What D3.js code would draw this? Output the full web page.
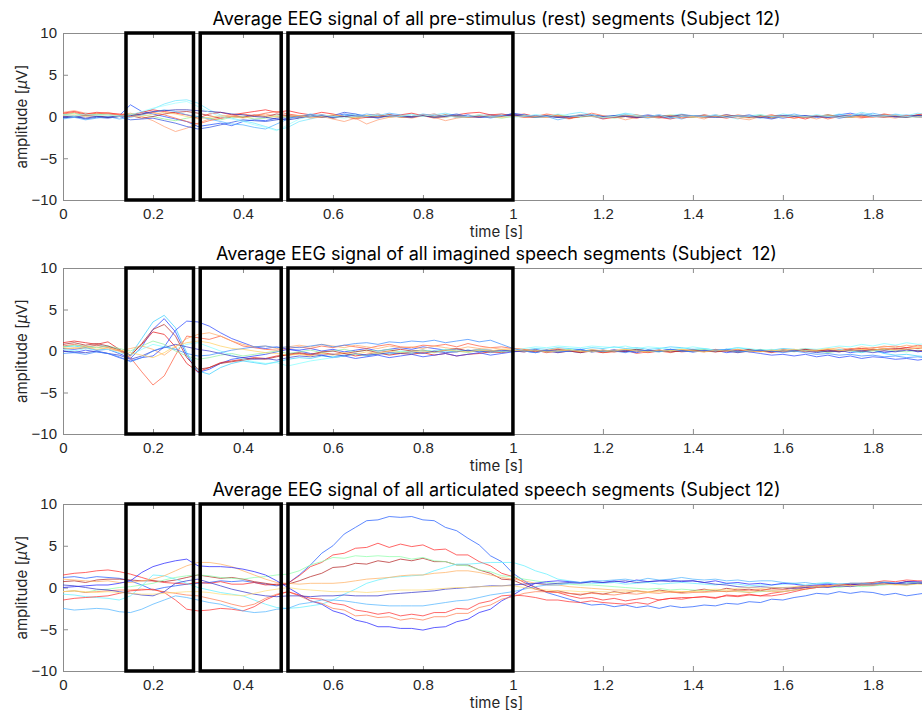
<!DOCTYPE html>
<html>
<head>
<meta charset="utf-8">
<script src="https://cdn.jsdelivr.net/npm/d3@7"></script>
<style>
  body { margin: 0; background: #fff; }
  svg { display: block; font-family: Inter, "Liberation Sans", Arial, sans-serif; }
  .tick text { fill: #262626; font-size: 15px; }
  .domain, .tick line { stroke: #8c8c8c; }
  .title { white-space: pre; }
</style>
</head>
<body>
<svg width="922" height="714"></svg>
<script>
var svg = d3.select("svg");

// sample spacing of the traces (s)
var dt = 0.025;

var xTicks = [0, 0.2, 0.4, 0.6, 0.8, 1, 1.2, 1.4, 1.6, 1.8];
var yTicks = [-10, -5, 0, 5, 10];

// marked analysis windows (s)
var boxStart = [0.14, 0.305, 0.5];
var boxEnd = [0.29, 0.485, 1.0];

var titles = [
  "Average EEG signal of all pre-stimulus (rest) segments (Subject 12)",
  "Average EEG signal of all imagined speech segments (Subject  12)",
  "Average EEG signal of all articulated speech segments (Subject 12)"
];

var restColors = ["#1e50ff", "#70e8ff", "#ff9a70", "#ff2020", "#90f090", "#b03030",
  "#3050e0", "#50b0ff", "#ff6040", "#ffd070", "#2828b0", "#a0ffff"];
var imaginedColors = ["#1e3cff", "#38d0ff", "#ff5a3c", "#e81818", "#2846ff", "#ffaa66",
  "#90f0a0", "#b02828", "#80ffff", "#3c3cc8", "#3c8cff", "#ffd060"];
var articulatedColors = ["#1e5aff", "#ff2a2a", "#b22222", "#8cffa8", "#60f0ff", "#ffb060",
  "#2020ff", "#ff7a50", "#ff3030", "#50b4ff", "#3434c8", "#ffdc78"];

// channel averages, uV, one value every dt
var restSignals = [
  [0.0,-0.1,0.1,0.0,-0.1,0.1, 1.4,0.6,0.3,0.0,-0.3,-0.6,-1.2, -1.0,-0.8,-1.1,-0.6,-0.4,-0.5,-0.2,0.0,
   0.1,-0.1,0.2,0.0,0.3,0.1,-0.1,0.0,0.2,0.1, 0.0,0.2,-0.1,0.1,0.0,0.2,-0.1,0.0,0.1,0.3,
   0.1,-0.1,0.0,0.2,-0.1,0.0,0.1,-0.2, 0.0,0.1,-0.1,0.0,0.2,-0.1,0.0,0.1, -0.1,0.0,0.2,0.0,-0.1,0.1,0.0,-0.2,
   0.0,0.1,-0.1,0.0,0.2,0.4,0.1,0.0, 0.2,-0.1,0.0,0.1,0.0],
  [0.3,0.1,0.4,0.2,0.3,0.1, 0.2,0.5,0.9,1.5,1.9,2.0,1.6, 0.8,0.2,-0.2,-0.5,-0.8,-1.2,-1.6,-1.3,
   -0.6,-0.3,0.0,-0.2,0.1,0.3,0.0,0.2,-0.1,0.1, 0.3,0.0,0.2,0.4,0.1,-0.1,0.2,0.0,0.3,0.1,
   0.0,0.2,0.1,-0.1,0.3,0.5,0.2,0.0, 0.1,0.4,0.2,0.0,-0.2,0.1,0.3,0.0, 0.2,-0.1,0.0,-0.3,0.1,0.2,0.0,0.3,
   0.1,-0.1,0.2,0.0,0.3,0.1,0.5,0.2, 0.0,0.3,0.1,0.4,0.2],
  [0.5,0.7,0.4,0.3,0.5,0.2, 0.4,0.0,-0.5,-1.2,-1.8,-1.4,-0.8, -0.3,0.0,0.2,-0.1,0.1,0.3,0.0,0.2,
   0.1,-0.2,0.0,-0.3,-0.6,-0.2,-0.9,-0.4,-0.1,0.0, -0.2,0.1,-0.1,-0.5,-0.2,0.0,-0.1,0.2,0.0,0.1,
   -0.1,0.0,0.2,-0.1,-0.3,0.0,0.1,-0.2, 0.0,-0.4,-0.1,0.0,-0.2,0.1,-0.1,0.0, -0.3,0.2,0.0,-0.2,-0.4,0.0,-0.1,0.1,
   -0.2,0.0,-0.3,0.1,-0.1,0.0,-0.2,0.1, 0.0,-0.2,0.1,-0.1,0.0],
  [0.4,0.6,0.3,0.5,0.4,0.3, 0.2,0.5,0.8,0.6,0.4,0.2,-0.2, 0.3,0.5,0.2,0.4,0.6,0.8,0.5,0.7,
   0.4,0.2,0.5,0.3,0.0,-0.2,0.1,0.3,0.0,0.2, 0.4,0.1,0.3,0.0,0.2,0.4,0.5,0.2,0.3,0.1,
   0.3,0.0,-0.1,0.2,-0.2,0.0,0.1,-0.3, -0.1,0.0,-0.2,0.1,-0.1,-0.3,0.0,-0.1, 0.2,0.0,-0.2,0.1,-0.1,0.0,0.2,-0.1,
   0.0,-0.3,0.1,-0.1,0.0,0.2,-0.1,0.0, 0.3,0.1,-0.1,0.2,0.4],
  [0.2,0.4,0.1,0.3,0.2,0.0, 0.3,0.2,0.0,-0.3,-0.5,-0.2,0.0, -0.2,-0.4,-0.1,0.0,-0.3,-0.2,0.1,-0.1,
   0.0,0.2,-0.1,0.1,0.0,-0.2,0.1,0.0,0.2,-0.1, 0.0,0.1,-0.1,0.2,0.0,-0.1,0.1,0.0,-0.2,0.0,
   0.1,-0.1,0.0,0.2,0.0,-0.1,0.1,0.0, -0.2,0.0,0.1,-0.1,0.0,0.2,0.0,-0.1, 0.1,0.0,-0.1,0.1,0.0,0.2,-0.1,0.0,
   0.1,-0.1,0.0,0.2,0.0,-0.1,0.1,0.0, 0.2,0.0,-0.1,0.1,0.0],
  [0.1,0.0,0.2,0.1,-0.1,0.0, 0.1,-0.2,0.0,0.3,0.5,0.6,0.4, 0.1,-0.2,0.0,-0.1,0.2,0.0,0.3,0.1,
   -0.1,0.0,0.2,-0.2,0.0,0.1,-0.1,0.0,0.2,0.0, -0.1,0.1,0.0,0.2,-0.1,0.0,0.1,-0.1,0.0,0.2,
   0.0,-0.1,0.1,0.0,-0.2,0.0,0.1,-0.1, 0.0,0.2,-0.1,0.0,0.1,-0.2,0.0,0.1, -0.1,0.0,0.2,0.0,-0.1,0.1,-0.2,0.0,
   0.1,-0.1,0.0,0.2,0.0,-0.1,0.1,0.0, -0.1,0.1,0.0,0.2,0.0],
  [-0.2,0.0,-0.3,-0.1,-0.2,0.0, -0.4,-0.3,-0.2,-0.5,-0.8,-1.2,-1.5, -1.3,-1.0,-0.7,-0.4,-0.5,-0.6,-0.4,-0.2,
   0.0,0.2,-0.1,0.1,0.5,0.3,0.0,-0.2,0.1,0.0, -0.1,0.2,0.0,0.1,0.3,0.0,0.1,0.2,0.0,0.4,
   0.2,0.0,0.1,-0.1,0.0,0.2,0.1,0.0, -0.1,0.1,0.0,0.2,0.0,-0.2,0.0,0.1, 0.0,0.1,-0.1,0.0,0.2,-0.1,-0.3,0.0,
   0.1,-0.1,0.0,0.1,-0.2,0.0,0.3,0.1, 0.0,0.2,0.0,0.1,0.0],
  [-0.3,-0.1,-0.4,-0.2,0.0,-0.3, -0.1,0.2,0.5,0.8,0.6,0.2,0.0, -0.3,-0.6,-0.9,-1.0,-1.3,-1.5,-0.9,-0.3,
   0.0,0.3,0.1,-0.1,0.2,0.0,0.3,0.1,0.4,0.2, 0.0,0.3,0.1,-0.1,0.2,0.0,0.1,-0.2,0.1,0.0,
   0.2,-0.1,0.0,-0.4,-0.1,0.2,0.0,-0.2, 0.1,0.3,0.0,-0.2,0.1,0.0,-0.3,0.1, 0.0,0.2,-0.1,0.1,0.0,-0.2,0.1,0.0,
   0.3,0.0,0.1,-0.1,0.2,0.0,0.1,0.4, 0.1,0.0,0.2,-0.1,0.0],
  [0.3,0.5,0.2,0.4,0.3,0.2, 0.0,0.3,0.5,0.2,-0.2,-0.6,-0.9, -0.5,-0.2,0.0,0.3,0.1,0.4,0.6,0.3,
   0.1,0.0,-0.1,0.2,0.0,-0.3,-0.1,0.0,0.2,-0.1, 0.0,0.1,-0.2,0.0,0.1,-0.1,0.0,0.2,0.0,0.1,
   -0.1,0.0,0.3,0.1,-0.2,0.0,0.4,0.1, -0.1,0.0,0.2,-0.1,0.0,0.1,-0.2,0.0, 0.1,0.0,-0.1,0.2,0.0,-0.1,0.1,0.0,
   -0.2,0.0,0.1,-0.3,0.0,0.1,0.0,-0.1, 0.2,0.0,0.1,-0.1,0.0],
  [0.1,0.2,0.0,0.1,0.2,0.0, 0.1,0.0,0.3,0.5,0.3,0.0,-0.3, -0.1,0.1,0.0,-0.2,0.0,0.1,-0.1,0.0,
   0.1,-0.1,0.0,0.2,0.0,-0.1,0.1,0.0,-0.1,0.1, 0.0,0.2,0.0,-0.1,0.1,0.0,0.2,0.0,-0.1,0.0,
   0.1,0.0,-0.1,0.1,0.0,0.2,0.0,-0.1, 0.0,0.1,0.0,-0.1,0.1,0.0,0.2,0.0, -0.1,0.0,0.1,0.0,-0.2,0.0,0.1,0.0,
   0.1,-0.1,0.0,0.1,0.0,-0.1,0.1,0.0, 0.0,0.1,-0.1,0.0,0.1],
  [-0.1,0.0,-0.2,0.0,-0.1,0.0, 0.1,0.3,0.6,0.7,0.8,0.8,0.7, 0.6,0.5,0.3,0.2,0.0,-0.1,-0.3,-0.4,
   -0.2,0.0,0.1,-0.1,0.0,0.1,0.0,-0.1,0.1,0.0, 0.0,0.1,-0.1,0.0,0.1,0.0,-0.1,0.0,0.1,0.2,
   0.0,0.1,0.0,-0.1,0.0,0.1,0.2,0.0, 0.1,0.0,-0.1,0.0,0.1,0.0,0.2,0.1, 0.0,-0.1,0.0,0.1,0.0,-0.1,0.0,0.1,
   0.0,0.1,0.0,-0.1,0.0,0.1,0.2,0.0, 0.1,0.0,-0.1,0.1,0.0],
  [0.2,0.0,0.3,0.1,0.2,0.0, 0.2,0.6,1.0,1.3,1.6,1.8,1.2, 0.5,0.0,-0.3,-0.6,-1.0,-1.3,-1.7,-1.0,
   -0.3,0.0,0.2,0.0,-0.2,0.1,0.0,0.3,0.1,0.0, 0.2,0.0,0.3,0.1,-0.1,0.0,0.2,0.0,0.1,-0.1,
   0.0,0.2,0.0,0.3,0.1,0.0,0.2,-0.1, 0.0,0.3,0.1,0.0,0.2,-0.2,0.0,0.1, 0.0,0.2,-0.1,0.1,0.0,0.2,0.0,-0.1,
   0.1,0.0,0.2,0.0,-0.1,0.1,0.3,0.0, 0.1,0.2,0.0,-0.1,0.1]
];

var imaginedSignals = [
  [0.3,0.2,0.4,0.1,0.2,-0.3, -0.9,0.5,2.6,3.9,2.3,-0.5,-2.6, -2.2,-1.5,-1.0,-0.8,-0.6,-0.4,-0.1,0.2,
   0.1,0.3,0.0,0.2,-0.1,0.1,0.3,0.0,0.2,0.4, 0.2,0.5,0.3,0.1,0.2,0.0,0.1,-0.1,0.0,0.1,
   0.0,0.2,-0.1,0.1,0.0,-0.2,0.1,0.0, 0.1,-0.1,0.2,0.0,0.1,-0.1,0.0,0.2, 0.0,0.1,-0.2,0.0,0.1,0.0,-0.1,0.1,
   0.0,0.2,-0.1,0.0,0.1,-0.2,0.0,0.1, -0.2,0.0,0.2,-0.1,0.1],
  [0.5,0.6,0.4,0.7,0.5,0.2, -0.5,1.5,3.5,4.3,2.8,-0.2,-2.4, -2.8,-2.0,-1.5,-1.2,-1.4,-1.6,-1.3,-1.0,
   -0.8,-0.9,-0.6,-0.7,-0.5,-0.4,-0.6,-0.3,-0.4,-0.2, -0.3,-0.1,-0.2,0.0,-0.1,0.1,0.0,-0.2,0.0,-0.1,
   0.1,0.3,0.2,0.4,0.3,0.2,0.4,0.3, 0.5,0.3,0.4,0.2,0.3,0.5,0.4,0.2, 0.3,0.1,0.2,0.4,0.2,0.0,0.1,0.3,
   0.2,0.0,0.1,-0.1,0.2,0.0,-0.2,0.1, -0.3,-0.5,-0.4,-0.6,-0.7],
  [0.6,0.8,0.5,0.7,0.4,0.0, -0.8,-2.5,-4.1,-3.0,-0.5,1.8,1.6, 1.4,1.8,1.2,0.6,0.4,0.2,0.1,0.3,
   0.5,0.3,0.6,0.4,0.7,0.5,0.3,0.6,0.8,0.5, 0.4,0.7,0.6,0.8,0.5,0.9,0.6,0.4,0.5,0.3,
   0.2,0.0,0.1,-0.2,0.0,-0.1,0.1,-0.2, -0.1,0.1,-0.3,-0.1,0.0,-0.2,0.1,0.0, -0.1,0.2,0.0,-0.1,0.1,0.0,-0.2,0.0,
   0.1,-0.1,0.0,0.2,0.0,0.3,0.2,0.4, 0.5,0.6,0.4,0.7,0.5],
  [1.0,1.2,1.0,0.8,1.1,0.2, -0.5,0.8,2.3,2.0,0.5,-1.5,-2.5, -2.0,-1.4,-1.2,-1.0,-0.8,-0.9,-0.6,-0.5,
   -0.3,-0.5,-0.2,-0.4,-0.3,-0.6,-0.4,-0.2,-0.5,-0.3, -0.4,-0.2,-0.5,-0.3,-0.6,-0.4,-0.3,-0.1,-0.2,0.0,
   -0.1,0.1,-0.2,0.0,0.1,-0.1,0.0,-0.2, 0.0,-0.1,0.1,-0.2,0.0,0.1,-0.1,0.0, 0.1,-0.1,0.0,0.2,-0.1,0.0,0.1,-0.1,
   0.0,0.2,0.1,-0.1,0.0,0.2,0.3,0.1, 0.3,0.2,0.4,0.3,0.5],
  [0.0,-0.2,0.1,-0.1,-0.3,-0.8, -1.2,-0.8,-0.6,0.5,2.5,3.6,3.5, 3.0,2.2,1.5,1.0,0.5,0.3,0.5,0.2,
   0.0,-0.3,-0.5,-0.8,-0.6,-0.9,-0.7,-0.5,-0.8,-0.6, -0.4,-0.7,-0.5,-0.3,-0.6,-0.4,-0.2,-0.5,-0.3,-0.1,
   0.0,-0.2,0.1,-0.1,0.0,0.2,-0.1,0.0, 0.1,0.0,-0.2,0.1,0.0,0.2,0.1,-0.1, 0.0,0.1,0.2,0.0,-0.1,-0.3,-0.5,-0.4,
   -0.6,-0.4,-0.7,-0.5,-0.8,-0.6,-0.9,-0.7, -0.8,-1.0,-0.9,-1.1,-0.9],
  [0.2,0.4,0.3,0.5,0.2,0.0, 0.3,0.6,0.2,-0.5,0.5,1.5,2.0, 2.2,1.8,1.2,0.8,0.5,0.6,0.3,0.5,
   0.7,0.5,0.8,0.6,0.4,0.7,0.5,0.3,0.6,0.4, 0.5,0.3,0.6,0.4,0.2,0.5,0.3,0.4,0.2,0.3,
   0.2,0.0,0.1,0.3,0.1,-0.1,0.2,0.0, 0.1,0.2,0.0,-0.1,0.1,0.0,0.2,0.1, -0.1,0.0,0.1,-0.2,0.0,0.1,0.0,0.2,
   0.1,0.3,0.0,0.2,0.4,0.2,0.5,0.3, 0.6,0.4,0.7,0.5,0.6],
  [0.5,0.7,0.6,0.4,0.6,0.3, 0.0,0.6,1.2,0.8,0.0,-0.6,-1.0, -0.8,-0.5,-0.3,-0.6,-0.4,-0.2,0.0,-0.3,
   -0.1,0.1,-0.2,0.0,0.2,-0.1,0.1,0.0,0.2,-0.1, 0.0,0.1,-0.1,0.2,0.0,-0.2,0.1,0.0,-0.1,0.1,
   0.0,0.1,-0.1,0.0,0.2,0.0,0.1,-0.1, 0.0,0.1,0.2,0.0,-0.1,0.1,0.0,0.1, 0.2,0.0,0.1,-0.1,0.0,0.2,0.0,0.1,
   -0.1,0.1,0.0,-0.2,0.0,0.1,-0.1,0.0, 0.2,0.0,-0.1,0.1,0.0],
  [0.8,1.0,0.7,0.9,0.6,0.1, -0.6,0.9,2.6,3.2,1.8,-0.8,-2.2, -2.0,-1.5,-1.3,-1.1,-0.9,-1.0,-0.7,-0.4,
   -0.2,-0.4,-0.1,0.0,-0.3,-0.1,0.1,-0.2,0.0,0.2, 0.0,0.1,-0.1,0.1,0.3,0.0,0.2,0.1,-0.1,0.0,
   0.1,-0.1,0.0,0.2,0.0,-0.2,0.0,0.1, -0.1,0.0,0.2,0.0,0.1,-0.1,0.0,0.1, 0.0,-0.1,0.1,0.0,0.2,0.0,-0.1,0.1,
   0.0,0.2,0.0,0.1,-0.1,0.1,0.0,0.2, 0.1,0.3,0.2,0.0,0.2],
  [0.2,0.0,0.3,0.1,0.2,-0.2, -0.5,0.2,0.8,0.5,0.2,0.8,1.0, 0.5,0.0,-0.5,-1.0,-1.3,-1.5,-1.4,-1.8,
   -1.5,-1.2,-1.0,-0.8,-0.6,-0.4,-0.5,-0.2,-0.3,0.0, -0.1,0.1,0.0,0.2,0.1,0.0,0.2,0.1,-0.1,0.0,
   0.3,0.5,0.4,0.6,0.5,0.4,0.6,0.5, 0.4,0.6,0.3,0.5,0.4,0.2,0.3,0.5, 0.3,0.1,0.2,0.4,0.3,0.1,0.2,0.0,
   0.1,0.3,0.2,0.4,0.6,0.5,0.8,0.6, 0.9,0.7,1.0,0.8,0.9],
  [0.0,-0.1,-0.2,0.0,-0.3,-0.5, -1.0,-0.6,0.0,0.4,0.8,0.5,0.2, 0.0,-0.3,-0.6,-0.8,-1.0,-0.9,-1.1,-0.8,
   -0.6,-0.7,-0.5,-0.4,-0.6,-0.3,-0.5,-0.4,-0.2,-0.3, -0.1,-0.3,0.0,-0.2,-0.1,0.1,-0.1,0.0,0.1,0.0,
   -0.1,0.1,0.0,-0.2,0.0,0.1,-0.1,0.0, 0.1,0.0,-0.1,0.1,0.0,0.2,0.0,-0.1, 0.0,0.1,0.0,-0.2,0.0,0.1,-0.1,0.0,
   0.1,0.0,-0.2,0.0,-0.1,0.1,0.0,-0.2, 0.0,-0.1,0.1,0.0,-0.2],
  [-0.3,-0.2,-0.4,-0.1,-0.3,-0.7, -1.3,-0.8,0.0,0.5,0.2,-0.3,-0.6, -0.5,-0.2,0.1,0.3,0.5,0.6,0.4,0.5,
   0.4,0.6,0.8,0.5,0.7,0.9,1.0,0.8,1.1,1.0, 1.2,1.1,1.3,1.0,1.2,1.4,1.1,1.3,0.8,0.3,
   0.0,-0.2,0.1,-0.1,0.0,0.2,-0.1,0.1, 0.0,-0.2,0.1,0.0,-0.1,0.2,0.0,-0.1, 0.1,0.0,0.2,-0.1,0.0,0.1,0.0,-0.2,
   0.0,-0.2,-0.4,-0.3,-0.5,-0.4,-0.6,-0.5, -0.7,-0.6,-0.8,-0.7,-0.9],
  [0.4,0.3,0.5,0.2,0.4,0.1, -0.2,-0.5,-0.8,-0.2,0.6,1.0,1.2, 1.0,0.6,0.3,0.2,0.0,-0.2,-0.3,-0.5,
   -0.4,-0.6,-0.3,-0.5,-0.2,-0.4,-0.1,-0.3,0.0,-0.2, -0.1,0.0,-0.2,0.1,0.0,-0.1,0.1,0.0,0.2,0.1,
   0.0,0.1,-0.1,0.0,0.1,0.0,-0.1,0.1, 0.0,0.2,0.0,-0.1,0.1,0.0,0.2,0.0, -0.1,0.1,0.0,0.2,0.0,-0.1,0.1,0.0,
   0.2,0.0,0.1,0.3,0.1,0.0,0.2,0.1, 0.3,0.1,0.2,0.4,0.2]
];

var articulatedSignals = [
  [1.2,1.3,1.1,1.3,1.2,1.1, 0.8,0.3,-0.3,0.0,0.2,0.4,0.5, 0.6,0.8,0.7,0.8,0.6,0.4,0.2,0.5,
   1.5,2.7,4.1,5.0,6.4,7.2,8.0,8.1,8.5,8.4, 8.5,8.1,8.0,7.2,6.8,5.9,5.1,3.8,3.1,1.7,
   0.8,0.0,-0.6,-1.0,-1.4,-1.8,-2.1,-2.0, -2.3,-2.1,-2.4,-2.2,-2.5,-2.2,-2.4,-2.3, -2.1,-2.2,-1.9,-2.0,-1.7,-1.8,-1.4,-1.5,
   -1.2,-1.0,-0.7,-0.8,-0.5,-0.7,-0.5,-0.6, -0.9,-0.7,-1.0,-0.8,-0.6],
  [1.5,1.7,1.8,2.0,2.1,1.9, 1.6,1.2,0.8,0.6,0.5,0.4,0.6, 0.5,0.7,0.4,0.4,0.6,0.3,0.4,0.5,
   1.4,2.5,3.0,3.9,4.1,4.7,4.8,5.3,4.8,5.2, 4.9,5.1,4.5,4.6,3.9,3.9,3.1,2.6,1.7,1.3,
   0.6,0.0,-0.5,-0.6,-1.0,-1.3,-1.2,-1.5, -1.3,-1.6,-1.4,-1.2,-1.5,-1.3,-1.4,-1.2, -1.1,-1.3,-0.9,-1.0,-0.8,-1.0,-0.7,-0.5,
   -0.3,0.0,0.2,0.1,0.4,0.3,0.5,0.3, 0.6,0.4,0.7,0.5,0.6],
  [0.7,0.8,0.6,0.9,1.0,1.0, 0.9,0.8,0.8,0.7,0.9,1.2,1.5, 1.3,1.1,1.2,1.0,0.7,0.5,0.3,0.4,
   0.8,1.3,1.7,2.4,2.5,2.9,2.8,3.2,3.0,3.4, 3.2,3.5,3.1,3.1,2.7,2.7,2.1,1.7,1.0,0.9,
   0.3,-0.2,-0.5,-0.4,-0.7,-0.9,-0.6,-0.8, -0.5,-0.7,-0.4,-0.6,-0.3,-0.5,-0.6,-0.4, -0.2,-0.4,-0.1,-0.3,-0.2,-0.4,-0.1,-0.2,
   0.0,0.2,0.1,0.3,0.2,0.4,0.3,0.5, 0.6,0.4,0.7,0.6,0.5],
  [-0.5,-0.4,-0.6,-0.3,-0.2,0.0, 0.1,0.3,0.5,0.9,1.2,1.4,1.5, 1.4,1.2,1.1,1.0,1.2,1.3,1.5,1.6,
   2.0,2.7,3.1,3.6,3.5,3.8,3.7,3.8,3.7,3.7, 3.4,3.6,3.2,3.1,2.7,2.6,2.1,1.9,1.4,1.3,
   1.0,0.8,0.6,0.5,0.4,0.3,0.3,0.2, 0.1,0.0,-0.1,-0.2,-0.1,-0.3,-0.2,-0.3, -0.4,-0.3,-0.5,-0.4,-0.6,-0.5,-0.4,-0.5,
   -0.3,-0.2,0.0,0.1,0.0,0.2,0.1,0.2, 0.3,0.4,0.3,0.5,0.5],
  [-0.8,-0.9,-1.1,-1.2,-1.3,-1.5, -1.0,0.2,1.5,1.4,1.0,0.5,0.0, -0.3,-0.6,-0.8,-1.0,-1.5,-2.0,-2.4,-2.5,
   -2.4,-2.2,-2.0,-1.5,-0.8,-0.2,0.5,0.9,1.2,1.3, 1.4,1.5,2.0,2.4,2.8,2.8,2.9,3.0,3.0,3.0,
   2.6,2.0,1.6,1.0,0.8,0.6,0.5,0.5, 0.6,0.4,0.5,0.6,0.4,0.5,0.6,0.5, 0.4,0.3,0.5,0.4,0.2,0.3,0.3,0.4,
   0.5,0.3,0.5,0.6,0.4,0.5,0.5,0.6, 0.7,0.5,0.6,0.6,0.7],
  [1.0,0.9,0.8,0.7,0.8,0.6, 0.6,0.8,1.0,1.4,2.0,2.6,3.0, 3.0,2.8,2.5,2.0,1.5,1.0,0.6,0.5,
   0.4,0.5,0.5,0.5,0.6,0.8,1.0,1.1,1.2,1.4, 1.5,1.5,1.7,1.8,2.0,2.0,1.8,1.5,1.2,1.0,
   0.8,0.5,0.3,0.3,0.1,0.0,-0.1,-0.2, -0.3,-0.3,-0.4,-0.5,-0.4,-0.6,-0.5,-0.5, -0.6,-0.5,-0.4,-0.5,-0.6,-0.4,-0.5,-0.5,
   -0.3,-0.2,0.0,0.1,0.2,0.2,0.3,0.3, 0.4,0.5,0.4,0.5,0.5],
  [0.0,0.1,0.2,0.3,0.3,0.5, 0.8,1.8,2.5,2.9,3.2,3.4,2.6, 2.5,2.5,2.4,2.2,1.9,1.5,0.8,0.0,
   -0.8,-1.6,-2.0,-2.8,-3.2,-3.9,-4.2,-4.7,-4.7,-4.9, -4.9,-5.1,-4.8,-4.7,-4.1,-3.8,-3.0,-2.6,-1.6,-0.9,
   -0.1,0.5,0.7,0.8,0.7,0.6,0.7,0.6, 0.8,0.6,0.9,0.7,0.8,0.9,0.7,0.8, 0.6,0.8,0.5,0.6,0.4,0.5,0.3,0.5,
   0.4,0.2,0.3,0.4,0.2,0.3,0.4,0.4, 0.6,0.5,0.7,0.7,0.6],
  [-0.5,-0.4,-0.6,-0.5,-0.4,-0.3, -0.3,-0.2,-0.3,-0.5,-0.7,-0.9,-1.0, -1.3,-1.6,-2.0,-2.3,-2.0,-1.3,-0.8,-0.5,
   -1.0,-1.6,-1.9,-2.5,-2.7,-3.4,-3.3,-3.6,-3.5,-3.9, -3.7,-3.9,-3.5,-3.5,-3.1,-3.1,-2.4,-2.1,-1.4,-1.1,
   -0.7,-0.5,-0.5,-0.6,-0.7,-0.8,-0.7,-0.8, -0.9,-0.7,-0.8,-0.6,-0.7,-0.5,-0.7,-0.6, -0.5,-0.4,-0.5,-0.3,-0.4,-0.2,-0.3,-0.3,
   -0.1,0.0,0.2,0.1,0.3,0.2,0.3,0.3, 0.5,0.4,0.3,0.5,0.4],
  [-1.5,-1.3,-1.2,-1.1,-1.0,-0.7, -0.4,-0.3,-0.2,-0.6,-1.5,-2.6,-2.8, -2.7,-2.5,-2.6,-2.8,-2.3,-1.5,-0.9,-0.5,
   -0.9,-1.3,-1.4,-1.9,-2.1,-2.7,-2.9,-3.2,-3.0,-3.4, -3.2,-3.4,-3.0,-3.0,-2.5,-2.6,-1.9,-1.6,-1.0,-0.9,
   -1.0,-1.2,-1.5,-1.5,-1.7,-1.8,-1.6,-1.8, -1.9,-2.0,-1.8,-2.0,-1.5,-1.3,-1.2,-1.2, -1.1,-1.2,-1.0,-1.1,-0.9,-1.0,-1.0,-0.8,
   -0.5,-0.2,0.0,0.2,0.3,0.5,0.5,0.6, 0.8,0.7,0.9,0.8,0.8],
  [-2.5,-2.7,-2.6,-2.5,-2.6,-2.9, -3.0,-2.6,-2.0,-1.5,-1.0,-1.2,-1.5, -1.8,-2.0,-2.4,-2.8,-3.0,-2.9,-2.6,-2.5,
   -2.0,-1.8,-1.5,-1.5,-1.6,-1.8,-2.0,-2.1,-2.2,-2.2, -2.2,-2.2,-2.0,-1.8,-1.6,-1.5,-1.2,-0.9,-0.7,-0.5,
   -0.2,0.1,0.3,0.3,0.5,0.6,0.8,0.8, 0.9,1.0,0.8,1.1,0.9,1.0,1.2,1.0, 0.9,1.0,0.8,0.9,0.7,0.8,0.8,0.6,
   0.5,0.6,0.4,0.5,0.4,0.5,0.5,0.4, 0.6,0.5,0.4,0.5,0.5],
  [0.3,0.2,0.0,-0.2,-0.3,-0.5, -0.7,-0.9,-1.0,-0.5,0.5,0.8,1.0, 0.6,0.2,-0.2,-0.5,-0.8,-1.0,-1.1,-1.0,
   -1.0,-1.1,-1.0,-1.0,-0.9,-1.0,-1.0,-1.0,-0.8,-0.7, -0.6,-0.5,-0.4,-0.2,-0.1,0.0,0.1,0.2,0.2,0.3,
   0.4,0.5,0.4,0.5,0.6,0.5,0.7,0.6, 0.7,0.8,0.6,0.7,0.8,0.7,0.8,0.8, 0.6,0.4,0.3,0.1,0.0,0.1,0.0,0.0,
   -0.1,0.0,0.1,0.0,0.2,0.1,0.3,0.3, 0.4,0.5,0.4,0.5,0.5],
  [-0.5,-0.4,-0.5,-0.6,-0.5,-0.6, -0.7,-0.8,-0.8,-0.7,-0.6,-0.5,-0.5, -0.6,-0.8,-0.9,-1.0,-0.7,-0.4,-0.2,0.0,
   -0.2,-0.3,-0.4,-0.5,-0.5,-0.5,-0.6,-0.5,-0.4,-0.3, -0.3,-0.3,-0.2,-0.1,0.0,0.0,0.1,0.1,0.2,0.2,
   0.0,-0.2,-0.3,-0.4,-0.4,-0.5,-0.5,-0.5, -0.6,-0.5,-0.5,-0.6,-0.5,-0.4,-0.5,-0.5, -0.3,-0.2,-0.3,-0.1,0.0,-0.1,0.0,0.0,
   0.1,0.2,0.1,0.2,0.3,0.2,0.3,0.3, 0.4,0.3,0.3,0.4,0.3]
];

var panels = [
  { title: titles[0], top: 33, bottom: 200, signals: restSignals, colors: restColors },
  { title: titles[1], top: 268, bottom: 434, signals: imaginedSignals, colors: imaginedColors },
  { title: titles[2], top: 504, bottom: 671, signals: articulatedSignals, colors: articulatedColors }
];

var left = 63, right = 930;
var x = d3.scaleLinear().domain([0, 1.927]).range([left, right]);

panels.forEach(function(p) {
  var y = d3.scaleLinear().domain([-10, 10]).range([p.bottom, p.top]);
  var g = svg.append("g");

  // axes (ticks point inwards, box on top)
  g.append("g")
    .attr("transform", "translate(0," + p.bottom + ")")
    .call(d3.axisBottom(x).tickValues(xTicks).tickFormat(d3.format("")).tickSizeInner(-5).tickSizeOuter(0).tickPadding(8));
  g.append("g")
    .attr("transform", "translate(0," + p.top + ")")
    .call(d3.axisTop(x).tickValues(xTicks).tickFormat("").tickSizeInner(-5).tickSizeOuter(0));
  g.append("g")
    .attr("transform", "translate(" + left + ",0)")
    .call(d3.axisLeft(y).tickValues(yTicks).tickSizeInner(-5).tickSizeOuter(0).tickPadding(6));
  g.selectAll(".tick text").attr("font-family", null).attr("font-size", null);

  // traces
  var line = d3.line()
    .x(function(d, i) { return x(i * dt); })
    .y(function(d) { return y(d); });
  g.append("g").selectAll("path")
    .data(p.signals)
    .enter().append("path")
    .attr("d", line)
    .attr("fill", "none")
    .attr("stroke", function(d, i) { return p.colors[i]; })
    .attr("stroke-width", 0.9)
    .attr("stroke-opacity", 0.8);

  // windows
  g.append("g").selectAll("rect")
    .data(boxStart)
    .enter().append("rect")
    .attr("x", function(d) { return x(d); })
    .attr("y", y(10))
    .attr("width", function(d, i) { return x(boxEnd[i]) - x(d); })
    .attr("height", y(-10) - y(10))
    .attr("fill", "none")
    .attr("stroke", "#000")
    .attr("stroke-width", 3.5);

  // labels
  g.append("text")
    .attr("class", "title")
    .attr("x", (left + right) / 2)
    .attr("y", p.top - 8)
    .attr("text-anchor", "middle")
    .attr("font-size", 18)
    .attr("fill", "#000")
    .text(p.title);
  g.append("text")
    .attr("x", (left + right) / 2)
    .attr("y", p.bottom + 37)
    .attr("text-anchor", "middle")
    .attr("font-size", 15)
    .attr("fill", "#262626")
    .text("time [s]");
  var yl = g.append("text")
    .attr("transform", "translate(27," + y(0) + ") rotate(-90)")
    .attr("text-anchor", "middle")
    .attr("font-size", 15)
    .attr("fill", "#262626");
  yl.append("tspan").text("amplitude [");
  yl.append("tspan").attr("font-style", "italic").text("\u03bc");
  yl.append("tspan").text("V]");
});
</script>
</body>
</html>
